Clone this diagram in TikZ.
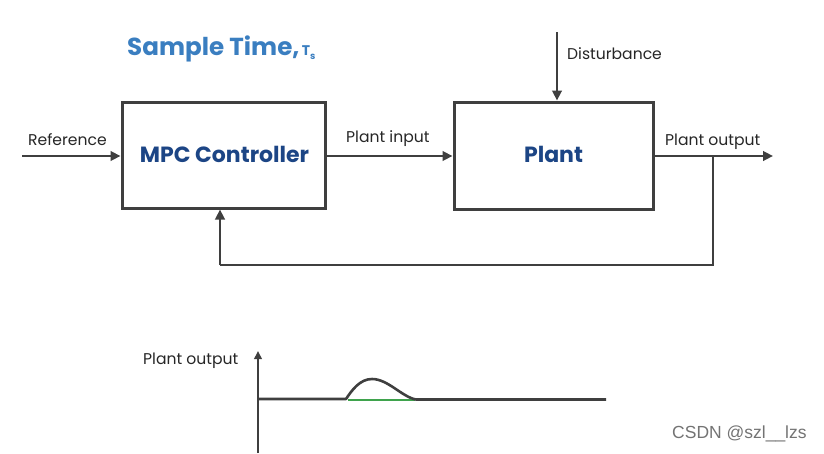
\documentclass[tikz,border=0pt]{standalone}
\usepackage{fontspec}
\setmainfont{Poppins}
\newfontfamily\wmfont{Liberation Sans}
\usetikzlibrary{arrows.meta}
\definecolor{linegray}{HTML}{3F3F3F}
\definecolor{titleblue}{HTML}{3A7EC0}
\definecolor{navy}{HTML}{1C4585}
\definecolor{plotgreen}{HTML}{3FA34D}
\tikzset{
  sig/.style={draw=linegray, line width=2.8pt, -{Triangle[length=10pt,width=9.5pt]}},
  wire/.style={draw=linegray, line width=2.8pt},
  block/.style={draw=linegray, line width=3pt, fill=white, minimum width=203pt, minimum height=106pt, inner sep=0pt},
  lbl/.style={font=\fontsize{15.6}{15.6}\selectfont, text=black!85, inner sep=0pt},
  blocktext/.style={font=\bfseries\fontsize{22}{22}\selectfont, text=navy, inner sep=0pt}
}
\begin{document}
\begin{tikzpicture}[x=1pt,y=-1pt]
\useasboundingbox (0,0) rectangle (824,453);
% blocks
\node[block] (mpc) at (223.5,155) {};
\node[block, minimum width=199pt, minimum height=107pt] (plant) at (553.5,155.5) {};
\node[blocktext] (mpct) at (224.5,154) {MPC Controller};
\node[blocktext] (plantt) at (553.5,154) {Plant};
% title
\node[font=\bfseries\fontsize{24.6}{24.6}\selectfont, text=titleblue, anchor=west, inner sep=0pt] (title) at (127,49) {Sample Time,{\fontsize{14}{14}\selectfont\,T}\raisebox{-4pt}{\fontsize{9.5}{9.5}\selectfont s}};
% coordinates
\coordinate (refin) at (22,156);
\coordinate (outend) at (773,156);
\coordinate (tap) at (713,156);
\coordinate (fb1) at (713,265);
\coordinate (fb2) at (220,265);
\coordinate (dist) at (557,32);
% connectors
\draw[sig] (refin) -- (mpc.west |- refin);
\draw[sig] (mpc.east |- refin) -- (plant.west |- refin);
\draw[sig] (plant.east |- refin) -- (outend);
\draw[sig] (dist) -- (dist |- plant.north);
\draw[wire] (tap) -- (fb1) -- (fb2);
\draw[sig] (fb2) -- (fb2 |- mpc.south);
% labels
\node[lbl, anchor=west] (lref) at (28,140) {Reference};
\node[lbl, anchor=west] (lpin) at (346,139) {Plant input};
\node[lbl, anchor=west] (ldist) at (567,54) {Disturbance};
\node[lbl, anchor=west] (lpout) at (665,142) {Plant output};
% plot
\coordinate (ax0) at (258,453);
\coordinate (ax1) at (258,351);
\coordinate (b0) at (258,399);
\coordinate (b1) at (606,399.5);
\draw[sig, line width=2.6pt, -{Triangle[length=8pt,width=7.5pt]}] (ax0) -- (ax1);
\draw[draw=plotgreen, line width=2.2pt] (348,400) -- (415,400);
\draw[wire, line width=2.6pt, line join=round] (b0) -- (346,399) .. controls (352,390) and (360,379) .. (372,379) .. controls (388,379) and (402,397) .. (416,399.5) -- (b1);
\node[lbl, anchor=west] (lplot) at (143,361) {Plant output};
% watermark
\node[font=\wmfont\fontsize{17.5}{17.5}\selectfont, text=black!55, anchor=west, inner sep=0pt] (wm) at (672,434) {CSDN @szl\_\_lzs};
\end{tikzpicture}
\end{document}
